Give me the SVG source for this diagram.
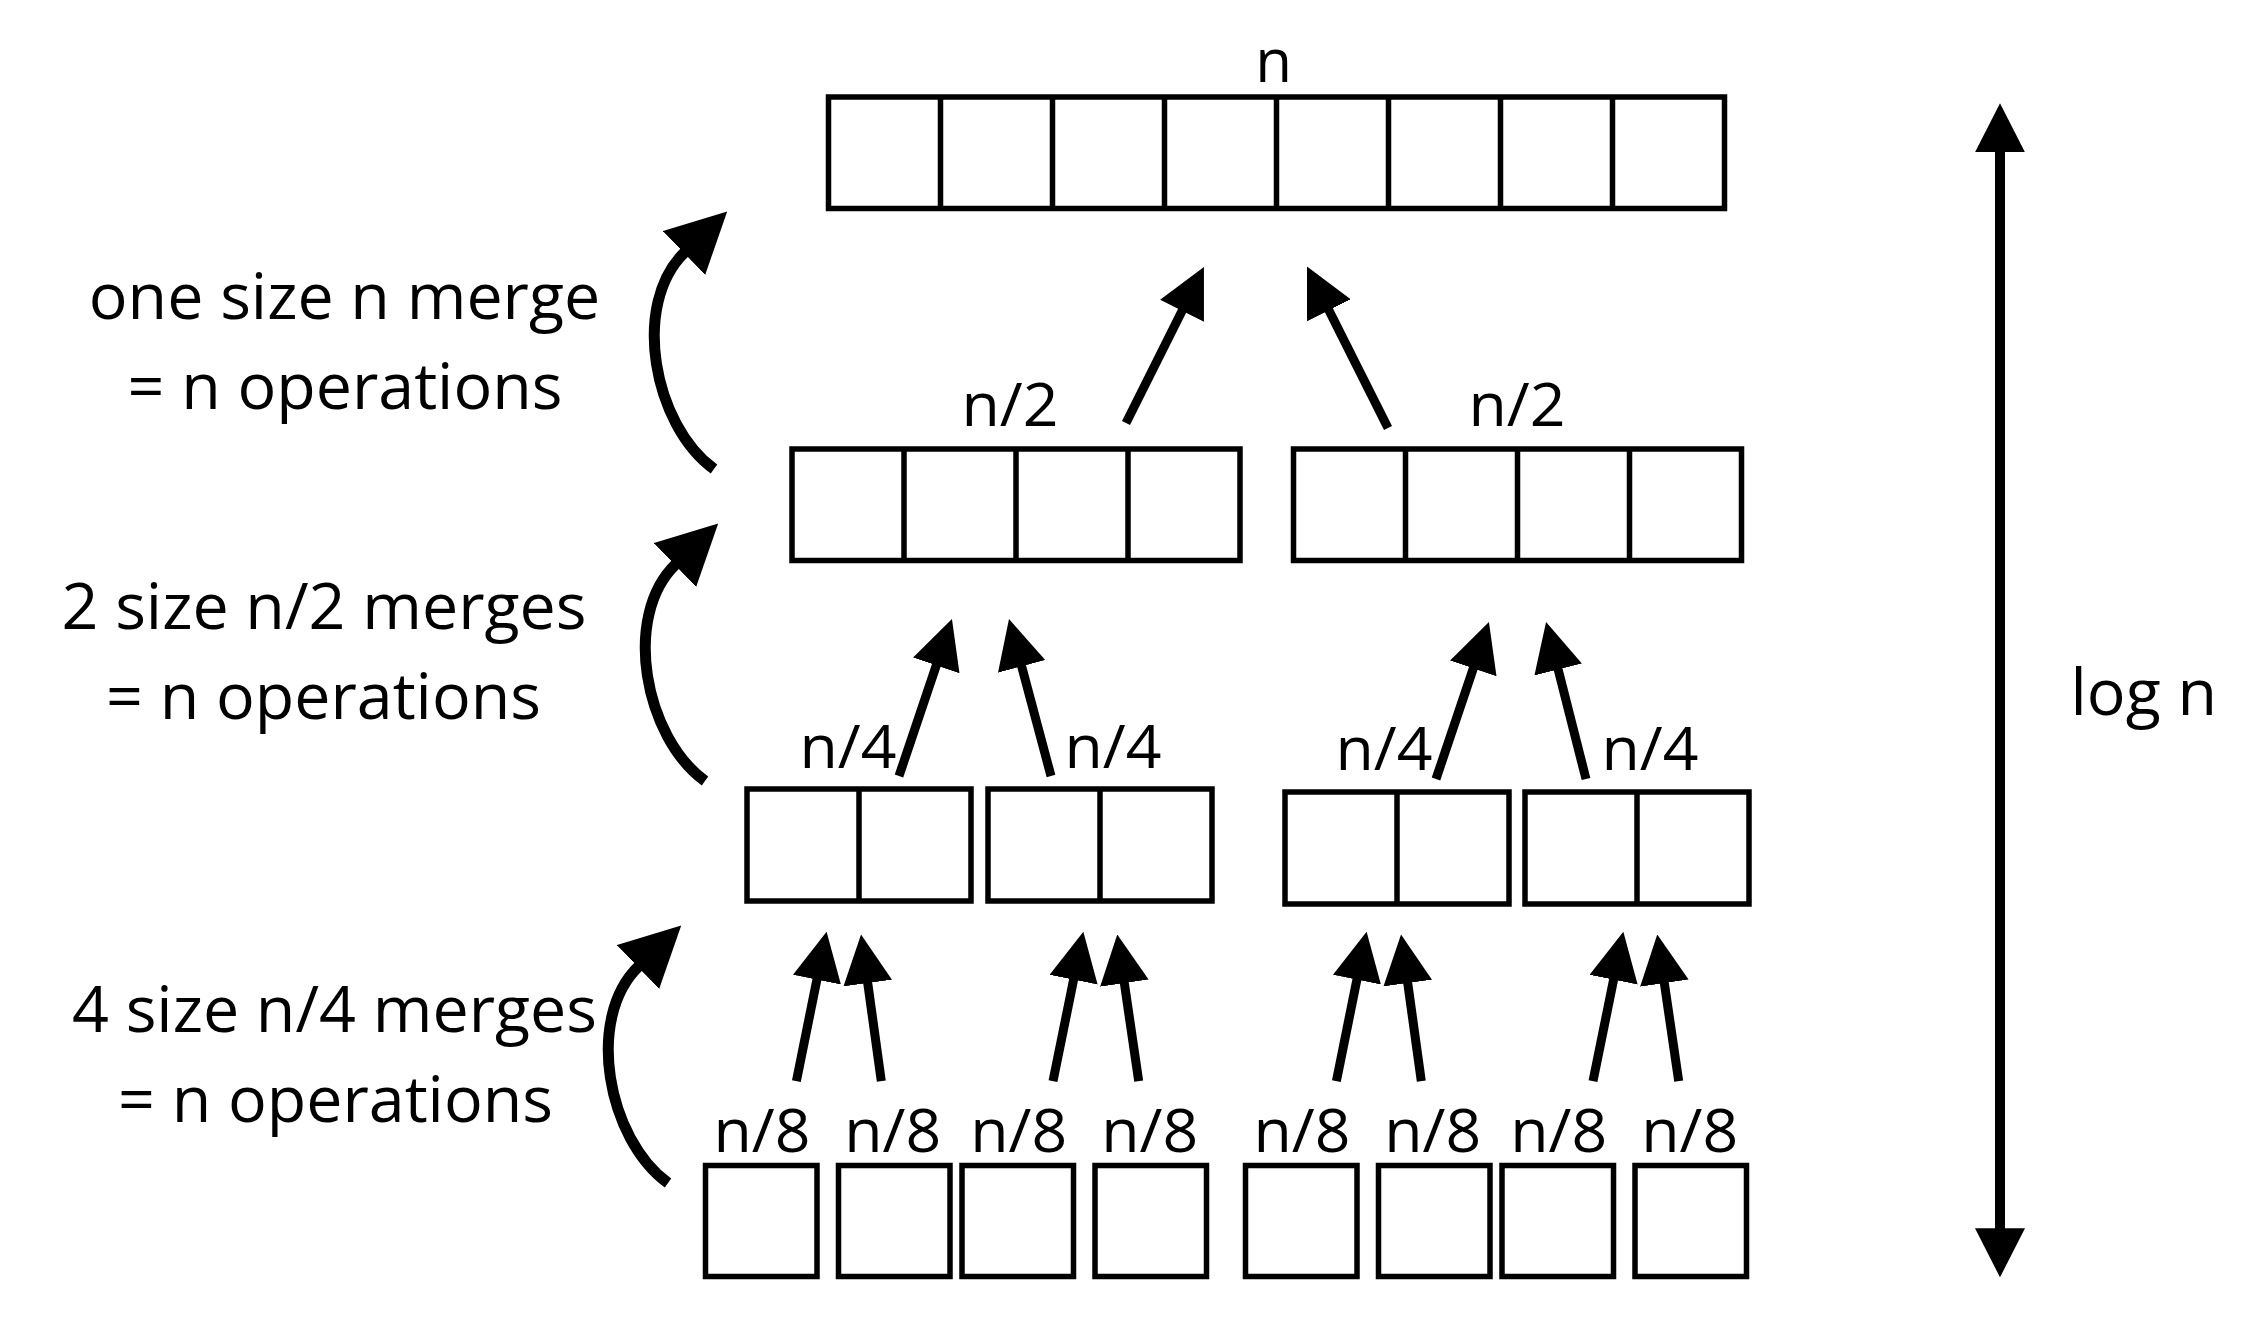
<svg xmlns="http://www.w3.org/2000/svg" width="2263" height="1329" viewBox="0 0 2263 1329">
<style>
.box{fill:#fff;stroke:#000;stroke-width:5.5}
.div{stroke:#000;stroke-width:5.5}
.lbl{font-family:"Open Sans","Liberation Sans",sans-serif;font-size:60px;text-anchor:middle;fill:#000}
.note{font-family:"Open Sans","Liberation Sans",sans-serif;font-size:64.5px;text-anchor:middle;fill:#000}
.arr{fill:none;stroke:#000;stroke-width:9;marker-end:url(#ah)}
.carr{fill:none;stroke:#000;stroke-width:11;marker-end:url(#ahc)}
.varr{fill:none;stroke:#000;stroke-width:10;marker-start:url(#ahv);marker-end:url(#ahv)}
</style>
<defs>
<marker id="ah" markerUnits="userSpaceOnUse" viewBox="0 0 49 49" markerWidth="49" markerHeight="49" refX="1" refY="24.5" orient="auto"><path d="M0,0 L49,24.5 L0,49 z" fill="#000"/></marker>
<marker id="ahc" markerUnits="userSpaceOnUse" viewBox="0 0 60 61" markerWidth="60" markerHeight="61" refX="1" refY="30.5" orient="auto"><path d="M0,0 L60,30.5 L0,61 z" fill="#000"/></marker>
<marker id="ahv" markerUnits="userSpaceOnUse" viewBox="0 0 49 50" markerWidth="49" markerHeight="50" refX="1" refY="25" orient="auto-start-reverse"><path d="M0,0 L49,25 L0,50 z" fill="#000"/></marker>
</defs>
<rect x="0" y="0" width="2263" height="1329" fill="#fff"/>

<g id="array-n">
<rect class="box" x="828.5" y="97" width="896" height="111.5"/>
<path class="div" d="M940.5,97V208.5M1052.5,97V208.5M1164.5,97V208.5M1276.5,97V208.5M1388.5,97V208.5M1500.5,97V208.5M1612.5,97V208.5"/>
<text class="lbl" x="1273.6" y="81.5">n</text>
</g>

<g id="half-1">
<rect class="box" x="792" y="449" width="448" height="111.5"/>
<path class="div" d="M904,449V560.5M1016,449V560.5M1128,449V560.5"/>
<text class="lbl" x="1010" y="425.7" textLength="97" lengthAdjust="spacingAndGlyphs">n/2</text>
</g>
<g id="half-2">
<rect class="box" x="1293.5" y="449" width="448" height="111.5"/>
<path class="div" d="M1405.5,449V560.5M1517.5,449V560.5M1629.5,449V560.5"/>
<text class="lbl" x="1517" y="425.5" textLength="97" lengthAdjust="spacingAndGlyphs">n/2</text>
</g>

<g id="quarter-1">
<rect class="box" x="747" y="789" width="224" height="112"/>
<path class="div" d="M859,789V901"/>
<text class="lbl" x="848" y="767.5" textLength="97" lengthAdjust="spacingAndGlyphs">n/4</text>
</g>
<g id="quarter-2">
<rect class="box" x="988" y="789" width="224" height="112"/>
<path class="div" d="M1100,789V901"/>
<text class="lbl" x="1113" y="767.5" textLength="97" lengthAdjust="spacingAndGlyphs">n/4</text>
</g>
<g id="quarter-3">
<rect class="box" x="1285" y="792" width="224" height="112"/>
<path class="div" d="M1397,792V904"/>
<text class="lbl" x="1384" y="770" textLength="97" lengthAdjust="spacingAndGlyphs">n/4</text>
</g>
<g id="quarter-4">
<rect class="box" x="1525" y="792" width="224" height="112"/>
<path class="div" d="M1637,792V904"/>
<text class="lbl" x="1650" y="770" textLength="97" lengthAdjust="spacingAndGlyphs">n/4</text>
</g>

<g id="eighth-1"><rect class="box" x="705.5" y="1165.5" width="111.5" height="111"/><text class="lbl" x="762" y="1152" textLength="97" lengthAdjust="spacingAndGlyphs">n/8</text></g>
<g id="eighth-2"><rect class="box" x="838.5" y="1165.5" width="111.5" height="111"/><text class="lbl" x="892.7" y="1152" textLength="97" lengthAdjust="spacingAndGlyphs">n/8</text></g>
<g id="eighth-3"><rect class="box" x="962" y="1165.5" width="111.5" height="111"/><text class="lbl" x="1018.7" y="1152" textLength="97" lengthAdjust="spacingAndGlyphs">n/8</text></g>
<g id="eighth-4"><rect class="box" x="1095" y="1165.5" width="111.5" height="111"/><text class="lbl" x="1149.7" y="1152" textLength="97" lengthAdjust="spacingAndGlyphs">n/8</text></g>
<g id="eighth-5"><rect class="box" x="1245.5" y="1165.5" width="111.5" height="111"/><text class="lbl" x="1302" y="1152" textLength="97" lengthAdjust="spacingAndGlyphs">n/8</text></g>
<g id="eighth-6"><rect class="box" x="1378.5" y="1165.5" width="111.5" height="111"/><text class="lbl" x="1432.7" y="1152" textLength="97" lengthAdjust="spacingAndGlyphs">n/8</text></g>
<g id="eighth-7"><rect class="box" x="1502" y="1165.5" width="111.5" height="111"/><text class="lbl" x="1558.7" y="1152" textLength="97" lengthAdjust="spacingAndGlyphs">n/8</text></g>
<g id="eighth-8"><rect class="box" x="1635" y="1165.5" width="111.5" height="111"/><text class="lbl" x="1689.7" y="1152" textLength="97" lengthAdjust="spacingAndGlyphs">n/8</text></g>

<g id="notes">
<text class="note" x="344.5" y="318.5">one size n merge</text>
<text class="note" x="345" y="409">= n operations</text>
<text class="note" x="324" y="629.3">2 size n/2 merges</text>
<text class="note" x="323.5" y="719">= n operations</text>
<text class="note" x="334.5" y="1032">4 size n/4 merges</text>
<text class="note" x="335.5" y="1122">= n operations</text>
<text class="note" x="2143.8" y="715">log n</text>
</g>

<g id="connectors">
<path class="arr" d="M1126,423L1182.5,309.9"/>
<path class="arr" d="M1388,428L1328.5,309.4"/>
<path class="arr" d="M899,776L936.6,664.5"/>
<path class="arr" d="M1051,776L1021.4,665.4"/>
<path class="arr" d="M1436,779L1473.6,667.5"/>
<path class="arr" d="M1586,779L1557.9,668.5"/>
<path class="arr" d="M796.4,1081.2L817.1,978.7"/>
<path class="arr" d="M881.3,1081.2L867.6,982.1"/>
<path class="arr" d="M1053,1081.2L1073.8,978.7"/>
<path class="arr" d="M1138.7,1081.2L1124.2,982.1"/>
<path class="arr" d="M1336.4,1081.2L1357.1,978.7"/>
<path class="arr" d="M1421.3,1081.2L1407.6,982.1"/>
<path class="arr" d="M1593,1081.2L1613.8,978.7"/>
<path class="arr" d="M1678.7,1081.2L1664.2,982.1"/>
<path class="carr" d="M714,469C653.3,424.9 630.9,304.1 684.7,252.3"/>
<path class="carr" d="M705,781C644.3,736.9 621.9,616.1 675.7,564.3"/>
<path class="carr" d="M668,1183C607.3,1138.9 584.9,1018.1 638.7,966.3"/>
<path class="varr" d="M2000,151.3V1229.3"/>
</g>
</svg>
